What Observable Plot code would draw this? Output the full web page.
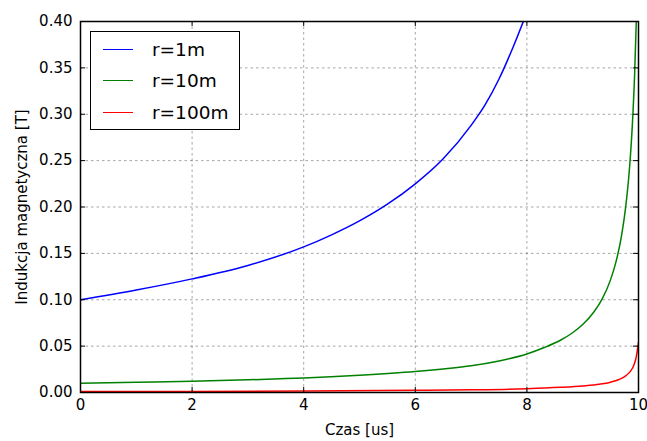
<!DOCTYPE html>
<html>
<head>
<meta charset="utf-8">
<script src="https://cdn.jsdelivr.net/npm/d3@7"></script>
<script src="https://cdn.jsdelivr.net/npm/@observablehq/plot@0.6"></script>
<style>
  html, body { margin: 0; padding: 0; background: #fff; }
  #wrap { position: relative; width: 647px; height: 441px; font-family: "DejaVu Sans", sans-serif; }
  #legend { position: absolute; left: 90px; top: 31px; width: 150px; height: 99px; border: 1.5px solid #000; background: #fff; box-sizing: border-box; }
  .entry { position: absolute; left: 12px; height: 20px; display: flex; align-items: center; font-size: 18.5px; color: #000; }
  .entry .sw { width: 30px; height: 0; border-top: 1.5px solid; margin-right: 19px; }
</style>
</head>
<body>
<div id="wrap"></div>
<script>
const blueT = [0, 1, 2, 3, 4, 4.5, 5, 5.5, 6, 6.5, 7, 7.25, 7.5, 7.75, 8.0];
const blueB = [0.100, 0.1105, 0.1225, 0.137, 0.157, 0.170, 0.185, 0.203, 0.225, 0.252, 0.288, 0.310, 0.338, 0.372, 0.410];

const greenT = [0, 1, 2, 3, 4, 5, 6, 6.5, 7, 7.5, 8, 8.3, 8.6, 8.8, 9.0, 9.2, 9.35, 9.5, 9.6, 9.7, 9.77, 9.84, 9.89, 9.93, 9.96, 9.99];
const greenB = [0.0100, 0.0111, 0.0122, 0.0137, 0.0155, 0.0185, 0.0226, 0.0254, 0.0288, 0.0340, 0.0415, 0.0482, 0.0563, 0.0636, 0.0733, 0.0868, 0.1010, 0.1217, 0.1416, 0.1704, 0.1998, 0.2428, 0.2888, 0.3420, 0.3995, 0.4830];

const redT = [0, 2, 4, 6, 7, 8, 8.6, 9.0, 9.3, 9.5, 9.65, 9.77, 9.85, 9.92, 9.96, 10];
const redB = [0.0010, 0.0012, 0.0016, 0.0023, 0.0029, 0.0041, 0.0056, 0.0071, 0.0089, 0.0111, 0.0140, 0.0180, 0.0225, 0.0300, 0.0385, 0.0540];

const seriesNames = ["r=1m", "r=10m", "r=100m"];
const seriesColors = ["#0000ff", "#008000", "#ff0000"];

const xTicks = [0, 2, 4, 6, 8, 10];
const yTicks = [0, 0.05, 0.10, 0.15, 0.20, 0.25, 0.30, 0.35, 0.40];

const xLabel = "Czas [us]";
const yLabel = "Indukcja magnetyczna [T]";

const toRows = (ts, bs) => ts.map((t, i) => ({t, b: bs[i]}));
const blue = toRows(blueT, blueB);
const green = toRows(greenT, greenB);
const red = toRows(redT, redB);

const tickLenX = 0.09;   // ~5px in x units
const tickLenY = 0.0054; // ~5px in y units

const chart = Plot.plot({
  width: 647,
  height: 441,
  marginLeft: 80,
  marginRight: 9,
  marginTop: 21,
  marginBottom: 49,
  style: {fontFamily: "DejaVu Sans, sans-serif", fontSize: "15px", color: "#000", background: "#fff"},
  x: {domain: [0, 10], ticks: xTicks},
  y: {domain: [0, 0.4], ticks: yTicks},
  marks: [
    Plot.gridX(xTicks.slice(1, -1), {stroke: "#000", strokeOpacity: 0.45, strokeDasharray: "2.5,3", strokeWidth: 0.8}),
    Plot.gridY(yTicks.slice(1, -1), {stroke: "#000", strokeOpacity: 0.45, strokeDasharray: "2.5,3", strokeWidth: 0.8}),
    Plot.axisX(xTicks, {tickSize: 0, tickPadding: 7, fontSize: 15, label: xLabel, labelAnchor: "center", labelArrow: "none", labelOffset: 42}),
    Plot.axisY(yTicks, {tickSize: 0, tickPadding: 8, fontSize: 15, tickFormat: d3.format(".2f"), label: yLabel, labelAnchor: "center", labelArrow: "none", labelOffset: 64}),
    Plot.line(red, {x: "t", y: "b", stroke: seriesColors[2], strokeWidth: 1.5, curve: "monotone-x", clip: true}),
    Plot.line(green, {x: "t", y: "b", stroke: seriesColors[1], strokeWidth: 1.5, curve: "monotone-x", clip: true}),
    Plot.line(blue, {x: "t", y: "b", stroke: seriesColors[0], strokeWidth: 1.5, curve: "monotone-x", clip: true}),
    Plot.ruleX(xTicks, {y1: 0, y2: tickLenY, stroke: "#000", strokeWidth: 1}),
    Plot.ruleX(xTicks, {y1: 0.4, y2: 0.4 - tickLenY, stroke: "#000", strokeWidth: 1}),
    Plot.ruleY(yTicks, {x1: 0, x2: tickLenX, stroke: "#000", strokeWidth: 1}),
    Plot.ruleY(yTicks, {x1: 10, x2: 10 - tickLenX, stroke: "#000", strokeWidth: 1}),
    Plot.frame({stroke: "#000", strokeWidth: 1.5})
  ]
});

const wrap = document.getElementById("wrap");
wrap.appendChild(chart);

const legend = document.createElement("div");
legend.id = "legend";
seriesNames.forEach((name, i) => {
  const e = document.createElement("div");
  e.className = "entry";
  e.style.top = (7 + i * 31.5) + "px";
  const sw = document.createElement("span");
  sw.className = "sw";
  sw.style.borderTopColor = seriesColors[i];
  const tx = document.createElement("span");
  tx.textContent = name;
  e.appendChild(sw);
  e.appendChild(tx);
  legend.appendChild(e);
});
wrap.appendChild(legend);
</script>
</body>
</html>
